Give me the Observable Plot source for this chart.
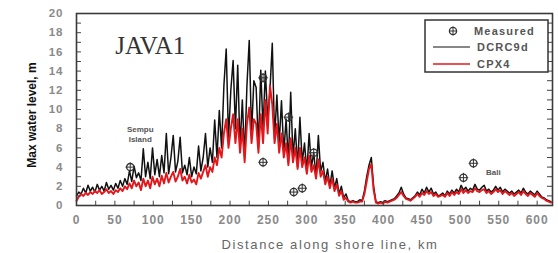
<!DOCTYPE html>
<html><head><meta charset="utf-8">
<script src="https://cdn.jsdelivr.net/npm/d3@7"></script>
<script src="https://cdn.jsdelivr.net/npm/@observablehq/plot@0.6"></script>
<style>
html,body{margin:0;padding:0;background:#fff;}
#chart svg{display:block;}
</style></head><body><div id="chart"></div>
<script>
// distance along shore line (km), digitised every 3 km
const distanceKm = [
  0,3,6,9,12,15,18,21,24,27,
  30,33,36,39,42,45,48,51,54,57,
  60,63,66,69,72,75,78,81,84,87,
  90,93,96,99,102,105,108,111,114,117,
  120,123,126,129,132,135,138,141,144,147,
  150,153,156,159,162,165,168,171,174,177,
  180,183,186,189,192,195,198,201,204,207,
  210,213,216,219,222,225,228,231,234,237,
  240,243,246,249,252,255,258,261,264,267,
  270,273,276,279,282,285,288,291,294,297,
  300,303,306,309,312,315,318,321,324,327,
  330,333,336,339,342,345,348,351,354,357,
  360,363,366,369,372,375,378,381,384,387,
  390,393,396,399,402,405,408,411,414,417,
  420,423,426,429,432,435,438,441,444,447,
  450,453,456,459,462,465,468,471,474,477,
  480,483,486,489,492,495,498,501,504,507,
  510,513,516,519,522,525,528,531,534,537,
  540,543,546,549,552,555,558,561,564,567,
  570,573,576,579,582,585,588,591,594,597,
  600,603,606,609,612,615,618
];
// DCRC9d model, max water level (m)
const dcrc9d = [
  1.0,1.4,1.2,1.8,1.3,2.1,1.5,1.9,1.4,2.2,
  1.6,2.0,1.5,2.4,1.7,2.1,1.6,2.3,1.8,2.6,
  2.0,2.8,2.2,3.6,2.5,4.1,2.9,3.4,2.6,5.9,
  3.0,4.5,2.8,6.0,3.2,4.8,3.0,5.2,3.4,7.5,
  3.3,5.0,7.3,3.5,4.6,7.1,3.4,4.2,3.2,5.0,
  3.0,4.0,3.3,6.2,3.6,5.0,7.5,4.0,6.0,4.5,
  8.9,5.0,9.9,6.0,12.5,16.3,7.0,12.0,15.1,8.0,
  14.6,6.0,11.0,5.0,12.5,17.2,7.5,13.0,12.3,6.0,
  14.1,8.0,14.0,9.0,12.0,16.9,7.0,11.5,6.5,10.9,
  5.5,9.0,4.5,11.8,5.0,8.0,4.0,9.2,4.5,6.5,
  3.5,7.5,4.0,5.5,3.0,7.3,3.5,4.5,2.5,3.8,
  2.0,3.6,1.8,2.8,1.2,2.0,0.8,1.2,0.5,0.4,
  0.5,0.4,0.4,0.6,0.5,1.5,3.0,4.2,5.0,2.0,
  0.4,0.3,0.4,0.3,0.5,0.4,0.5,0.6,0.7,1.0,
  1.3,1.9,1.2,0.8,0.7,0.6,0.8,1.0,1.4,1.1,
  1.7,1.3,1.9,1.4,1.8,1.2,1.4,1.0,1.1,1.3,
  1.0,1.5,1.2,1.6,1.3,1.7,1.4,2.1,1.6,1.9,
  1.5,1.8,1.6,2.2,1.7,1.6,1.9,2.1,1.5,1.7,
  1.4,1.6,2.0,1.6,1.9,1.4,1.7,1.5,1.3,1.5,
  1.2,1.4,1.6,1.3,1.8,1.4,1.2,1.5,1.3,1.1,
  1.5,1.2,0.9,0.8,0.6,0.5,0.4
];
// CPX4 model, max water level (m)
const cpx4 = [
  0.5,0.9,1.2,1.0,1.3,1.1,1.4,1.2,1.5,1.3,
  1.6,1.2,1.4,1.7,1.3,1.5,1.2,1.6,1.4,1.8,
  1.5,2.0,1.7,2.3,1.8,2.6,2.0,2.4,1.6,2.8,
  2.0,2.6,1.8,3.0,2.2,2.8,2.0,3.1,2.3,3.4,
  2.4,3.0,3.5,2.5,3.0,3.8,2.6,3.0,2.3,3.2,
  2.4,2.7,2.2,3.4,2.8,3.5,4.2,3.0,4.0,3.5,
  5.0,4.2,6.0,5.0,7.5,9.0,6.0,8.0,9.5,6.5,
  9.0,5.5,8.0,4.5,8.5,10.2,6.5,9.0,8.5,5.5,
  9.5,6.5,11.0,7.5,12.5,10.5,6.5,8.5,5.5,7.5,
  5.0,6.5,4.2,7.0,4.5,6.0,3.8,6.0,4.0,5.0,
  3.3,5.2,3.5,4.2,2.8,4.8,3.0,3.6,2.2,3.0,
  1.8,2.8,1.5,2.2,1.0,1.5,0.6,0.8,0.4,0.3,
  0.4,0.3,0.3,0.4,0.4,1.2,2.5,3.8,4.3,1.6,
  0.3,0.2,0.3,0.2,0.4,0.3,0.4,0.5,0.6,0.8,
  1.1,1.4,1.0,0.7,0.6,0.5,0.7,0.9,1.2,0.9,
  1.3,1.1,1.5,1.2,1.4,1.0,1.2,0.9,1.0,1.1,
  0.9,1.3,1.0,1.4,1.1,1.4,1.2,1.7,1.3,1.6,
  1.3,1.5,1.4,1.8,1.5,1.4,1.6,1.7,1.3,1.5,
  1.2,1.4,1.7,1.4,1.6,1.2,1.5,1.3,1.1,1.3,
  1.0,1.2,1.4,1.1,1.5,1.2,1.0,1.3,1.1,0.9,
  1.3,1.0,0.8,0.7,0.5,0.4,0.3
];
// measured run-up
const measuredKm = [70, 243, 243, 276, 309, 283, 294, 504, 517];
const measuredLevel = [4.0, 13.3, 4.5, 9.2, 5.5, 1.4, 1.8, 2.9, 4.4];

const xTicks = [0,50,100,150,200,250,300,350,400,450,500,550,600];
const xMinorTicks = [25,50,75,100,125,150,175,200,225,250,275,300,325,350,375,400,425,450,475,500,525,550,575,600];
const yTicks = [0,2,4,6,8,10,12,14,16,18,20];
const yMinorTicks = [1,2,3,4,5,6,7,8,9,10,11,12,13,14,15,16,17,18,19];

const titleText = ["JAVA1"]; const titleKm = [96]; const titleLevel = [16.6];
const noteText = ["Sempu", "Island", "Bali"];
const noteKm = [83, 83, 543];
const noteLevel = [7.9, 6.85, 3.4];
const legendLabels = ["Measured", "DCRC9d", "CPX4"];
const xTitle = "Distance along shore line, km";
const yTitle = "Max water level, m";

const rows = distanceKm.map((d, i) => ({km: d, dcrc: dcrc9d[i], cpx: cpx4[i]}));
const meas = measuredKm.map((d, i) => ({km: d, level: measuredLevel[i]}));
const titles = titleText.map((t, i) => ({t, km: titleKm[i], level: titleLevel[i]}));
const notes = noteText.map((t, i) => ({t, km: noteKm[i], level: noteLevel[i]}));

const RED = "#e3161b";
const chart = Plot.plot({
  width: 558, height: 253,
  marginLeft: 76, marginRight: 6, marginTop: 13, marginBottom: 48,
  style: {fontFamily: "'Liberation Sans', Arial, sans-serif", background: "#fff"},
  x: {domain: [0, 620]},
  y: {domain: [0, 20]},
  marks: [
    Plot.lineY(rows, {x: "km", y: "dcrc", stroke: "#111", strokeWidth: 1.5}),
    Plot.lineY(rows, {x: "km", y: "cpx", stroke: RED, strokeWidth: 1.9}),
    Plot.dot(meas, {x: "km", y: "level", r: 3.6, stroke: "#333", strokeWidth: 1.3, fill: "none"}),
    Plot.dot(meas, {x: "km", y: "level", r: 3.2, symbol: "plus", stroke: "#333", strokeWidth: 1, fill: "none"}),
    Plot.ruleY(yMinorTicks, {y: d => d, x1: 0, x2: 6.5, stroke: "#444"}),
    Plot.ruleY(yMinorTicks, {y: d => d, x1: 613.5, x2: 620, stroke: "#444"}),
    Plot.ruleX(xMinorTicks, {x: d => d, y1: 0, y2: 0.45, stroke: "#444"}),
    Plot.axisX(xTicks, {tickSize: 0, tickPadding: 10, fontSize: 12, fontWeight: "bold", fill: "#8a8a8a", label: null}),
    Plot.axisY(yTicks, {tickSize: 0, tickPadding: 13, fontSize: 11.5, fontWeight: "bold", fill: "#8a8a8a", label: null}),
    Plot.frame({stroke: "#3a3a3a", strokeWidth: 1.6}),
    Plot.text(titles, {x: "km", y: "level", text: "t", fontFamily: "'Liberation Serif', 'DejaVu Serif', serif", fontSize: 25, fill: "#333", textAnchor: "middle"}),
    Plot.text(notes, {x: "km", y: "level", text: "t", fontSize: 8, fontWeight: "bold", fill: "#555", textAnchor: "middle"})
  ]
});
document.getElementById("chart").appendChild(chart);

const svg = d3.select(chart);
svg.selectAll('[aria-label="x-axis tick label"] text, [aria-label="y-axis tick label"] text').style("letter-spacing", "1px");
// legend
const lg = svg.append("g").attr("font-family", "'Liberation Sans', Arial, sans-serif").attr("text-anchor", "start");
lg.append("rect").attr("x", 425).attr("y", 20).attr("width", 123).attr("height", 52)
  .attr("fill", "#fff").attr("stroke", "#333").attr("stroke-width", 1.5);
lg.append("circle").attr("cx", 453).attr("cy", 31).attr("r", 3.6).attr("fill", "none").attr("stroke", "#333").attr("stroke-width", 1.3);
lg.append("path").attr("d", "M453,26.5V35.5M449.5,31H456.5").attr("stroke", "#333").attr("stroke-width", 1);
lg.append("line").attr("x1", 433).attr("x2", 470).attr("y1", 47).attr("y2", 47).attr("stroke", "#111").attr("stroke-width", 1.2);
lg.append("line").attr("x1", 433).attr("x2", 470).attr("y1", 64).attr("y2", 64).attr("stroke", RED).attr("stroke-width", 1.6);
lg.selectAll("text.lab").data(legendLabels).join("text").attr("class", "lab")
  .attr("x", (d, i) => i === 0 ? 474 : 477).attr("y", (d, i) => [35, 51, 68][i])
  .attr("text-anchor", "start")
  .attr("font-size", 11).attr("font-weight", "bold").attr("fill", "#555").attr("letter-spacing", "1.2px")
  .text(d => d);
// axis titles
svg.append("text").attr("x", 330).attr("y", 249).attr("text-anchor", "middle")
  .attr("font-family", "'Liberation Sans', Arial, sans-serif").attr("font-size", 13).attr("fill", "#666").attr("letter-spacing", "1.6px")
  .text(xTitle);
svg.append("text").attr("transform", "translate(36,115) rotate(-90)").attr("text-anchor", "middle")
  .attr("font-family", "'Liberation Sans', Arial, sans-serif").attr("font-size", 12).attr("font-weight", "bold").attr("fill", "#111")
  .text(yTitle);
</script></body></html>
